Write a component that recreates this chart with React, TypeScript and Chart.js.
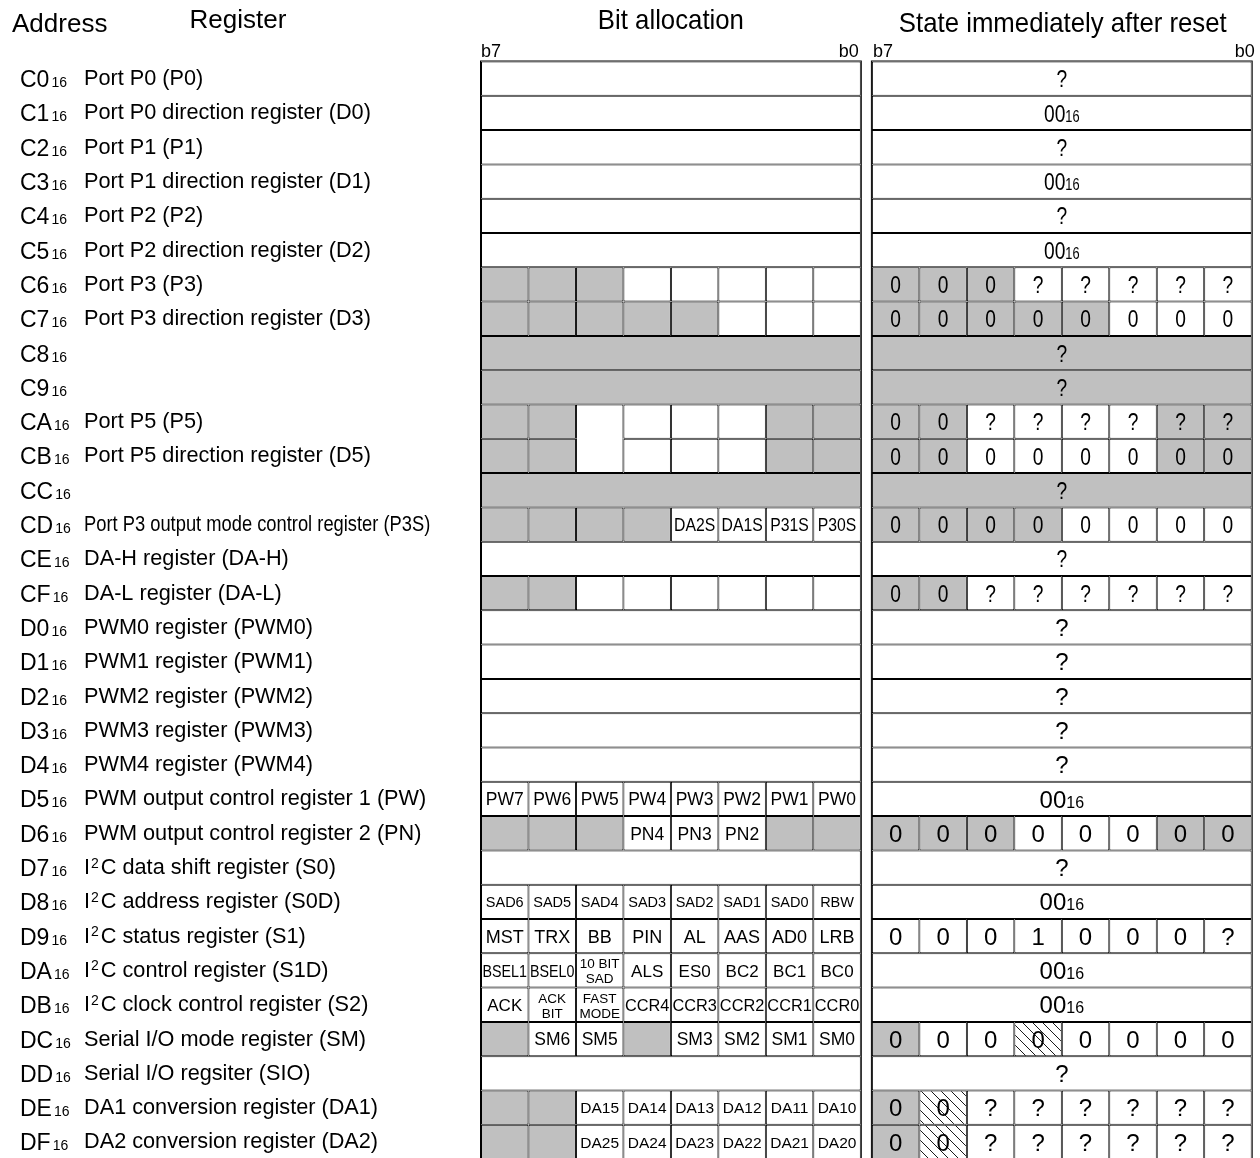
import React, { useEffect, useRef } from 'react';
import { Chart, registerables } from 'chart.js';

Chart.register(...registerables);

// ---------------- data ----------------
const addresses = [
  'C0', 'C1', 'C2', 'C3', 'C4', 'C5', 'C6', 'C7', 'C8', 'C9', 'CA', 'CB', 'CC', 'CD', 'CE', 'CF',
  'D0', 'D1', 'D2', 'D3', 'D4', 'D5', 'D6', 'D7', 'D8', 'D9', 'DA', 'DB', 'DC', 'DD', 'DE', 'DF',
];

const registerNames = [
  'Port P0 (P0)',
  'Port P0 direction register (D0)',
  'Port P1 (P1)',
  'Port P1 direction register (D1)',
  'Port P2 (P2)',
  'Port P2 direction register (D2)',
  'Port P3 (P3)',
  'Port P3 direction register (D3)',
  '',
  '',
  'Port P5 (P5)',
  'Port P5 direction register (D5)',
  '',
  'Port P3 output mode control register (P3S)',
  'DA-H register (DA-H)',
  'DA-L register (DA-L)',
  'PWM0 register (PWM0)',
  'PWM1 register (PWM1)',
  'PWM2 register (PWM2)',
  'PWM3 register (PWM3)',
  'PWM4 register (PWM4)',
  'PWM output control register 1 (PW)',
  'PWM output control register 2 (PN)',
  'I²C data shift register (S0)',
  'I²C address register (S0D)',
  'I²C status register (S1)',
  'I²C control register (S1D)',
  'I²C clock control register (S2)',
  'Serial I/O mode register (SM)',
  'Serial I/O regsiter (SIO)',
  'DA1 conversion register (DA1)',
  'DA2 conversion register (DA2)',
];

// Bit allocation shading, b7..b0. F = whole row white, X = whole row gray,
// w = white, g = gray, v = white merged with the row below, ^ = merged with the row above
const bitShade = [
  'F', 'F', 'F', 'F', 'F', 'F',
  'gggwwwww', 'gggggwww', 'X', 'X',
  'ggvwwwgg', 'gg^wwwgg', 'X', 'ggggwwww', 'F', 'ggwwwwww',
  'F', 'F', 'F', 'F', 'F',
  'wwwwwwww', 'gggwwwgg', 'F',
  'wwwwwwww', 'wwwwwwww', 'wwwwwwww', 'wwwwwwww',
  'gwwgwwww', 'F', 'ggwwwwww', 'ggwwwwww',
];

// Bit names, b7..b0 separated by "|"; "\n" splits a name over two lines
const bitNames = [
  '', '', '', '', '', '', '', '', '', '', '', '', '',
  '||||DA2S|DA1S|P31S|P30S',
  '', '', '', '', '', '', '',
  'PW7|PW6|PW5|PW4|PW3|PW2|PW1|PW0',
  '|||PN4|PN3|PN2||',
  '',
  'SAD6|SAD5|SAD4|SAD3|SAD2|SAD1|SAD0|RBW',
  'MST|TRX|BB|PIN|AL|AAS|AD0|LRB',
  'BSEL1|BSEL0|10 BIT\nSAD|ALS|ES0|BC2|BC1|BC0',
  'ACK|ACK\nBIT|FAST\nMODE|CCR4|CCR3|CCR2|CCR1|CCR0',
  '|SM6|SM5||SM3|SM2|SM1|SM0',
  '',
  '||DA15|DA14|DA13|DA12|DA11|DA10',
  '||DA25|DA24|DA23|DA22|DA21|DA20',
];

// State after reset shading: F / X whole row, w white, g gray, h hatched
const resetShade = [
  'F', 'F', 'F', 'F', 'F', 'F',
  'gggwwwww', 'gggggwww', 'X', 'X',
  'ggwwwwgg', 'ggwwwwgg', 'X', 'ggggwwww', 'F', 'ggwwwwww',
  'F', 'F', 'F', 'F', 'F', 'F',
  'gggwwwgg', 'F', 'F', 'wwwwwwww', 'F', 'F',
  'gwwhwwww', 'F', 'ghwwwwww', 'ghwwwwww',
];

// State after reset values: whole-row value ("?" or "00_16") or one char per bit b7..b0
const resetValue = [
  '?', '00_16', '?', '00_16', '?', '00_16',
  '000?????', '00000000', '?', '?',
  '00??????', '00000000', '?', '00000000', '?', '00??????',
  '?', '?', '?', '?', '?', '00_16',
  '00000000', '?', '00_16', '0001000?', '00_16', '00_16',
  '00000000', '?', '00??????', '00??????',
];

// ---------------- styles ----------------
const FONT = '"Liberation Sans", Arial, Helvetica, sans-serif';
const GRAY = '#c0c0c0';
const GAP = 0.234;
const STATE_OFF = 8 + GAP;
const NARROW_ROWS = 16; // rows C0..CF use a condensed face in the original
const bitFontSize: Record<number, number> = {
  13: 17.5, 21: 17.5, 22: 17.5, 24: 14.5, 25: 18, 26: 17, 27: 17, 28: 17.5, 30: 15.5, 31: 15.5,
};
const NAME_SIZE = 21.7;
const ADDR_SIZE = 23;
const VALUE_SIZE = 24;

function font(size: number) {
  return `${size}px ${FONT}`;
}

function makeHatch(): CanvasPattern | string {
  const c = document.createElement('canvas');
  c.width = 10;
  c.height = 10;
  const g = c.getContext('2d');
  if (!g) return '#fff';
  g.fillStyle = '#fff';
  g.fillRect(0, 0, 10, 10);
  g.strokeStyle = '#000';
  g.lineWidth = 0.9;
  g.beginPath();
  g.moveTo(-1, -1);
  g.lineTo(11, 11);
  g.moveTo(-1, 9);
  g.lineTo(1, 11);
  g.moveTo(9, -1);
  g.lineTo(11, 1);
  g.stroke();
  return g.createPattern(c, 'repeat') || '#fff';
}

function shadeChar(table: number, bit: number, row: number) {
  const s = table === 0 ? bitShade[row] : resetShade[row];
  if (s === 'F') return 'w';
  if (s === 'X') return 'g';
  return s[bit];
}

function drawScaled(
  ctx: CanvasRenderingContext2D,
  text: string,
  x: number,
  y: number,
  size: number,
  sx: number,
  align: CanvasTextAlign,
  baseline: CanvasTextBaseline = 'alphabetic',
  maxW?: number,
) {
  ctx.save();
  ctx.font = font(size);
  ctx.textAlign = align;
  ctx.textBaseline = baseline;
  ctx.translate(x, y);
  let s = sx;
  if (maxW) {
    const w = ctx.measureText(text).width * sx;
    if (w > maxW) s = (sx * maxW) / w;
  }
  ctx.scale(s, 1);
  ctx.fillText(text, 0, 0);
  ctx.restore();
}

function drawHex(ctx: CanvasRenderingContext2D, value: string, cx: number, cy: number, big: number, small: number, sx: number) {
  const [main, sub] = value.split('_');
  ctx.save();
  ctx.font = font(big);
  const w1 = ctx.measureText(main).width * sx;
  ctx.font = font(small);
  const w2 = ctx.measureText(sub).width * sx;
  ctx.restore();
  const x0 = cx - (w1 + w2) / 2;
  const base = cy + big * 0.36;
  drawScaled(ctx, main, x0, base, big, sx, 'left');
  drawScaled(ctx, sub, x0 + w1, base, small, sx, 'left');
}

const tablePlugin = {
  id: 'registerTable',
  afterDatasetsDraw(chart: any) {
    const ctx: CanvasRenderingContext2D = chart.ctx;
    const xs = chart.scales.x;
    const ys = chart.scales.y;
    const area = chart.chartArea;
    ctx.save();
    ctx.fillStyle = '#000';

    // outer frames
    ctx.strokeStyle = '#000';
    ctx.lineWidth = 1;
    [0, STATE_OFF].forEach((off) => {
      const l = xs.getPixelForValue(off);
      const r = xs.getPixelForValue(off + 8);
      ctx.strokeRect(l - 0.5, area.top - 0.5, r - l + 1, area.bottom - area.top + 1);
    });

    // headers
    const bitL = xs.getPixelForValue(0);
    const bitR = xs.getPixelForValue(8);
    const stL = xs.getPixelForValue(STATE_OFF);
    const stR = xs.getPixelForValue(STATE_OFF + 8);
    drawScaled(ctx, 'Address', 12, area.top - 30, 26, 1, 'left');
    drawScaled(ctx, 'Register', 238, area.top - 33.5, 26, 1, 'center');
    drawScaled(ctx, 'Bit allocation', (bitL + bitR) / 2, area.top - 33, 28, 0.92, 'center');
    drawScaled(ctx, 'State immediately after reset', (stL + stR) / 2 + 1, area.top - 30, 28, 0.92, 'center');
    drawScaled(ctx, 'b7', bitL, area.top - 4.5, 18, 1, 'left');
    drawScaled(ctx, 'b0', bitR - 2, area.top - 4.5, 18, 1, 'right');
    drawScaled(ctx, 'b7', stL + 1, area.top - 4.5, 18, 1, 'left');
    drawScaled(ctx, 'b0', stR + 3, area.top - 4.5, 18, 1, 'right');

    // left columns
    addresses.forEach((addr, i) => {
      const cy = ys.getPixelForValue(i);
      const base = cy + 8.5;
      ctx.font = font(ADDR_SIZE);
      const wa = ctx.measureText(addr).width;
      drawScaled(ctx, addr, 20, base, ADDR_SIZE, 1, 'left');
      drawScaled(ctx, '16', 20 + wa + 2, base, 14, 1, 'left');
      const name = registerNames[i];
      if (!name) return;
      const nb = cy + 6.5;
      const nx = 84;
      if (name.includes('²')) {
        const [pre, post] = name.split('²');
        ctx.font = font(NAME_SIZE);
        const w1 = ctx.measureText(pre).width;
        drawScaled(ctx, pre, nx, nb, NAME_SIZE, 1, 'left');
        ctx.font = font(14);
        const w2 = ctx.measureText('2').width;
        drawScaled(ctx, '2', nx + w1 + 1, nb - 6.5, 14, 1, 'left');
        drawScaled(ctx, post, nx + w1 + 1 + w2 + 2, nb, NAME_SIZE, 1, 'left');
      } else {
        drawScaled(ctx, name, nx, nb, NAME_SIZE, i === 13 ? 0.845 : 1, 'left');
      }
    });

    // cell texts
    chart.data.datasets.forEach((ds: any, di: number) => {
      const table = di < 8 ? 0 : 1;
      const bit = di % 8;
      const meta = chart.getDatasetMeta(di);
      meta.data.forEach((el: any, row: number) => {
        if (ds.data[row] == null) return;
        const p = el.getProps(['x', 'y', 'base', 'height'], true);
        const cx = (p.x + p.base) / 2;
        const cy = p.y;
        const w = Math.abs(p.x - p.base);
        const sx = row < NARROW_ROWS ? 0.8 : 1;
        if (table === 0) {
          const names = bitNames[row] ? bitNames[row].split('|') : [];
          const label = names[bit];
          if (!label) return;
          const size = bitFontSize[row] || 16;
          if (label.includes('\n')) {
            const [a, b] = label.split('\n');
            drawScaled(ctx, a, cx, cy - 2, 13.5, 1, 'center', 'alphabetic', w - 3);
            drawScaled(ctx, b, cx, cy + 13, 13.5, 1, 'center', 'alphabetic', w - 3);
          } else {
            drawScaled(ctx, label, cx, cy + size * 0.36, size, row === 13 ? 0.9 : 1, 'center', 'alphabetic', w - 3);
          }
        } else {
          const v = resetValue[row];
          if (v.length === 8) {
            drawScaled(ctx, v[bit], cx, cy + VALUE_SIZE * 0.36, VALUE_SIZE, sx, 'center');
          } else if (v.includes('_')) {
            drawHex(ctx, v, cx, cy, VALUE_SIZE, 16, sx);
          } else {
            drawScaled(ctx, v, cx, cy + VALUE_SIZE * 0.36, VALUE_SIZE, sx, 'center');
          }
        }
      });
    });
    ctx.restore();
  },
};

export default function App() {
  const ref = useRef<HTMLCanvasElement>(null);

  useEffect(() => {
    const canvas = ref.current;
    if (!canvas) return;
    const hatch = makeHatch();

    const datasets: any[] = [];
    for (let table = 0; table < 2; table++) {
      const off = table === 0 ? 0 : STATE_OFF;
      const shades = table === 0 ? bitShade : resetShade;
      for (let bit = 0; bit < 8; bit++) {
        const data = shades.map((s) => {
          if (s === 'F' || s === 'X') return bit === 0 ? [off, off + 8] : null;
          return [off + bit, off + bit + 1];
        });
        datasets.push({
          label: `${table === 0 ? 'bit' : 'reset'} b${7 - bit}`,
          data,
          backgroundColor: (c: any) => {
            if (c.dataIndex == null) return '#fff';
            const ch = shadeChar(table, bit, c.dataIndex);
            if (ch === 'g') return GRAY;
            if (ch === 'h') return hatch;
            return '#fff';
          },
          borderColor: '#000',
          borderWidth: (c: any) => {
            if (c.dataIndex == null) return 1;
            const ch = shadeChar(table, bit, c.dataIndex);
            if (ch === 'v') return { top: 1, left: 1, right: 1, bottom: 0 };
            if (ch === '^') return { top: 0, left: 1, right: 1, bottom: 1 };
            return 1;
          },
          borderSkipped: false,
          grouped: false,
          barPercentage: 1,
          categoryPercentage: 1,
          inflateAmount: 0,
        });
      }
    }

    const chart = new Chart(canvas, {
      type: 'bar',
      data: { labels: addresses, datasets },
      options: {
        indexAxis: 'y',
        animation: false,
        responsive: false,
        maintainAspectRatio: false,
        layout: { padding: { left: 481, right: 8.3, top: 61.5, bottom: 10.9 } },
        scales: {
          x: { type: 'linear', min: 0, max: STATE_OFF + 8, display: false },
          y: { type: 'category', display: false, offset: true },
        },
        plugins: {
          legend: { display: false },
          tooltip: { enabled: false },
        },
      },
      plugins: [tablePlugin],
    } as any);

    return () => chart.destroy();
  }, []);

  return (
    <div style={{ position: 'fixed', left: 0, top: 0, width: 1260, height: 1170, background: '#fff' }}>
      <canvas ref={ref} width={1260} height={1170} style={{ width: 1260, height: 1170, display: 'block' }} />
    </div>
  );
}
